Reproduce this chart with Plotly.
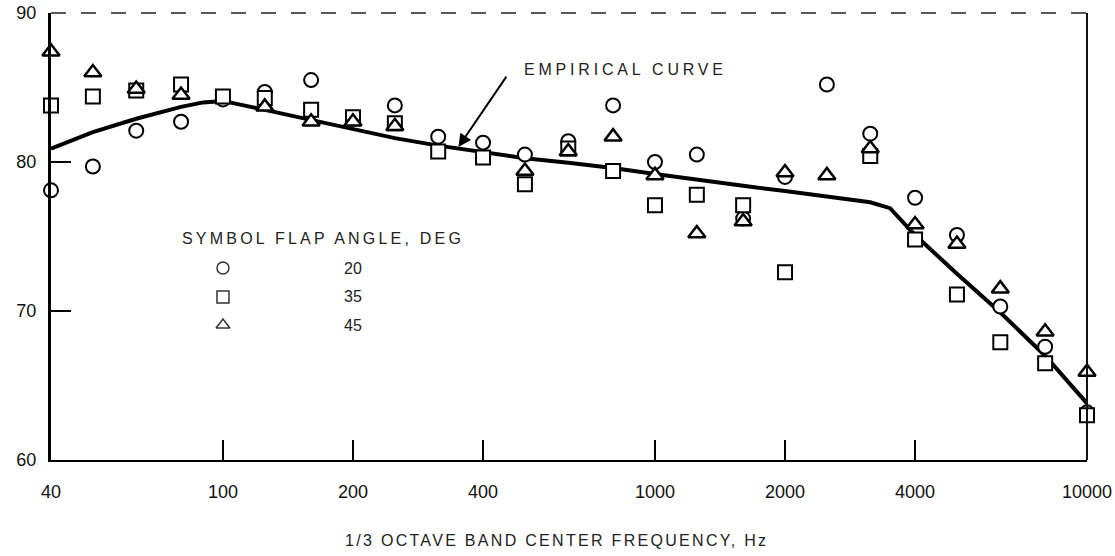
import math
import plotly.graph_objects as go

# 1/3 octave band centre frequencies, Hz
bands = [40, 50, 63, 80, 100, 125, 160, 200, 250, 315, 400, 500, 630, 800,
         1000, 1250, 1600, 2000, 2500, 3150, 4000, 5000, 6300, 8000, 10000]

# measured levels, dB, by flap angle
flap20 = [78.1, 79.7, 82.1, 82.7, 84.2, 84.7, 85.5, 82.9, 83.8, 81.7, 81.3, 80.5, 81.4, 83.8,
          80.0, 80.5, 76.2, 79.0, 85.2, 81.9, 77.6, 75.1, 70.3, 67.6, 63.2]
flap35 = [83.8, 84.4, 84.8, 85.2, 84.4, 84.3, 83.5, 83.0, 82.6, 80.7, 80.3, 78.5, 80.9, 79.4,
          77.1, 77.8, 77.1, 72.6, None, 80.4, 74.8, 71.1, 67.9, 66.5, 63.0]
flap45 = [87.4, 86.0, 84.9, 84.5, None, 83.7, 82.7, 82.7, 82.4, None, None, 79.4, 80.7, 81.7,
          79.1, 75.2, 76.0, 79.3, 79.1, 80.9, 75.8, 74.5, 71.5, 68.6, 65.9]

# empirical curve
curve_freq = [40, 50, 63, 80, 90, 100, 125, 160, 200, 250, 315, 400, 500, 630, 800, 1000,
              1250, 1600, 2000, 2500, 3150, 3500, 4000, 5000, 6300, 8000, 10000]
curve_db = [80.9, 82.0, 82.9, 83.7, 84.0, 84.1, 83.5, 82.8, 82.2, 81.6, 81.1, 80.65, 80.25,
            79.95, 79.6, 79.2, 78.8, 78.4, 78.05, 77.7, 77.3, 76.9, 75.1, 72.5, 69.9, 67.0, 63.8]

x_ticks = [40, 100, 200, 400, 1000, 2000, 4000, 10000]
y_ticks = [60, 70, 80, 90]

legend_symbols = ["circle", "square", "triangle-up"]
legend_angles = ["20", "35", "45"]

FONT = "Liberation Sans, Arial, sans-serif"
INK = "#111111"

fig = go.Figure()

fig.add_trace(go.Scatter(x=curve_freq, y=curve_db, mode="lines",
                         line=dict(color="black", width=4), hoverinfo="skip"))

mk = dict(color="white", size=14, line=dict(color="black", width=2))
fig.add_trace(go.Scatter(x=bands, y=flap20, mode="markers", cliponaxis=False,
                         marker=dict(symbol="circle", **mk)))
fig.add_trace(go.Scatter(x=bands, y=flap35, mode="markers", cliponaxis=False,
                         marker=dict(symbol="square", **mk)))
fig.add_trace(go.Scatter(x=bands, y=flap45, mode="markers", cliponaxis=False,
                         marker=dict(symbol="triangle-up", color="white", size=15,
                                     line=dict(color="black", width=2.5))))

# legend symbols on an overlay axis in paper-like units
leg_y = [0.4295, 0.3647, 0.302]
fig.add_trace(go.Scatter(x=[0.166] * 3, y=leg_y, mode="markers", xaxis="x2", yaxis="y2",
                         marker=dict(symbol=legend_symbols, color="white", size=12,
                                     line=dict(color="#333", width=1.5))))

annotations = [
    dict(x=0.1245, y=0.4966, xref="paper", yref="paper", xanchor="left", yanchor="middle",
         text="<span style='letter-spacing:3.2px'>SYMBOL FLAP ANGLE, DEG</span>", showarrow=False,
         font=dict(family=FONT, size=16, color="#222")),
    dict(x=0.488, y=-0.179, xref="paper", yref="paper", xanchor="center", yanchor="middle",
         text="<span style='letter-spacing:2.3px'>1/3 OCTAVE BAND CENTER FREQUENCY, Hz</span>",
         showarrow=False, font=dict(family=FONT, size=16, color="#222")),
    dict(x=2.693, y=86.2, xref="x", yref="y", xanchor="left", yanchor="middle",
         text="<span style='letter-spacing:3.8px'>EMPIRICAL CURVE</span>", showarrow=False,
         font=dict(family=FONT, size=16, color="#222")),
    dict(x=2.545, y=81.0, xref="x", yref="y", text="", showarrow=True,
         ax=49, ay=-72, arrowhead=2, arrowsize=1.3, arrowwidth=2, arrowcolor="black"),
]
for yy, lab in zip(leg_y, legend_angles):
    annotations.append(dict(x=0.2915, y=yy, xref="paper", yref="paper", xanchor="center",
                            yanchor="middle", text=lab, showarrow=False,
                            font=dict(family=FONT, size=16, color="#222")))

shapes = [
    dict(type="line", xref="paper", yref="paper", x0=0, x1=1, y0=1, y1=1,
         line=dict(color="#222", width=1.5, dash="longdash")),
    dict(type="line", xref="paper", yref="paper", x0=1, x1=1, y0=0, y1=1,
         line=dict(color="#111", width=2)),
]

fig.update_layout(
    width=1115, height=556,
    margin=dict(l=51, r=28, t=13, b=96),
    paper_bgcolor="white", plot_bgcolor="white",
    showlegend=False,
    font=dict(family=FONT, color=INK),
    annotations=annotations, shapes=shapes,
    xaxis=dict(type="log", range=[math.log10(40) - 1e-6, 4.0 + 1e-6], tickvals=x_ticks,
               ticktext=[str(v) for v in x_ticks], ticks="inside", ticklen=20,
               tickwidth=2, tickcolor="black", showline=True, linecolor="black",
               linewidth=2, showgrid=False, zeroline=False, automargin=False,
               tickfont=dict(family=FONT, size=18, color=INK), ticklabelstandoff=14),
    yaxis=dict(range=[60, 90], tickvals=y_ticks, ticks="inside", ticklen=20,
               tickwidth=1.5, tickcolor="black", showline=True, linecolor="black",
               linewidth=3, showgrid=False, zeroline=False, automargin=False,
               tickfont=dict(family=FONT, size=18, color=INK), ticklabelstandoff=8),
    xaxis2=dict(range=[0, 1], overlaying="x", visible=False),
    yaxis2=dict(range=[0, 1], overlaying="y", visible=False),
)

fig.write_html("out.html")
